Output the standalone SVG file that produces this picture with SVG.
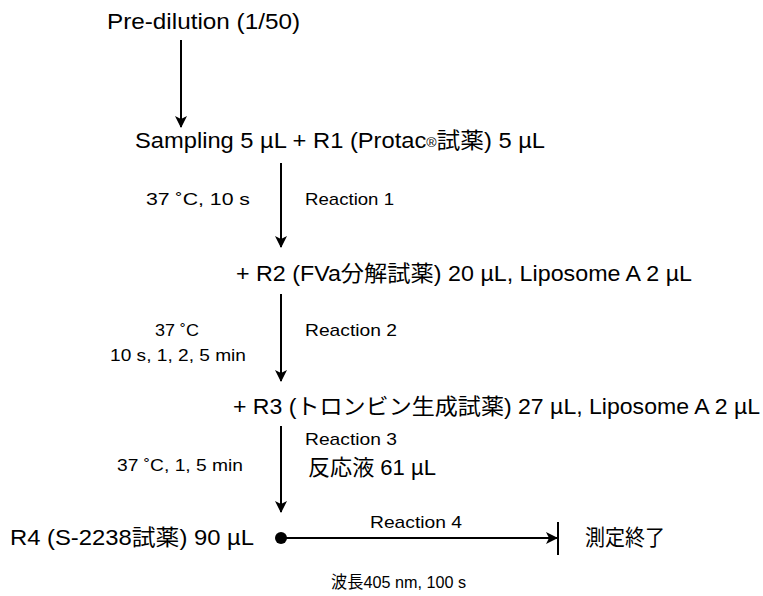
<svg xmlns="http://www.w3.org/2000/svg" width="763" height="596" viewBox="0 0 763 596">
<defs>
<style>
text{font-family:"Liberation Sans","Noto Sans CJK JP",sans-serif;fill:#000}
.m{font-size:22px}
.s{font-size:17px}
.ln{stroke:#000;stroke-width:2;fill:none}
</style>
<marker id="ah" viewBox="0 0 12 12" refX="11" refY="6" markerWidth="12" markerHeight="12" markerUnits="userSpaceOnUse" orient="auto">
<path d="M0,0 L12,6 L0,12 L3,6 Z" fill="#000"/>
</marker>
</defs>
<rect width="763" height="596" fill="#fff"/>
<g id="connectors">
<line class="ln" x1="181" y1="40" x2="181" y2="127" marker-end="url(#ah)"/>
<line class="ln" x1="281" y1="163" x2="281" y2="247" marker-end="url(#ah)"/>
<line class="ln" x1="281" y1="294" x2="281" y2="381" marker-end="url(#ah)"/>
<line class="ln" x1="281" y1="426" x2="281" y2="512" marker-end="url(#ah)"/>
<line class="ln" x1="281" y1="538" x2="557" y2="538" marker-end="url(#ah)"/>
<line class="ln" x1="558" y1="522" x2="558" y2="555"/>
<circle cx="281" cy="538" r="6" fill="#000"/>
</g>
<g id="n-predilution"><text class="m" x="107" y="29" textLength="193" lengthAdjust="spacingAndGlyphs">Pre-dilution (1/50)</text></g>
<g id="n-sampling"><text class="m" x="135" y="148" textLength="410" lengthAdjust="spacingAndGlyphs">Sampling 5 µL + R1 (Protac<tspan font-size="13" dy="-1">®</tspan><tspan dy="1">試薬) 5 µL</tspan></text></g>
<g id="n-r2"><text class="m" x="236" y="281" textLength="456" lengthAdjust="spacingAndGlyphs">+ R2 (FVa分解試薬) 20 µL, Liposome A 2 µL</text></g>
<g id="n-r3"><text class="m" x="233" y="414" textLength="527" lengthAdjust="spacingAndGlyphs">+ R3 (トロンビン生成試薬) 27 µL, Liposome A 2 µL</text></g>
<g id="n-r4"><text class="m" x="10" y="545" textLength="244" lengthAdjust="spacingAndGlyphs">R4 (S-2238試薬) 90 µL</text></g>
<g id="n-end"><text class="m" x="585" y="545" textLength="80" lengthAdjust="spacingAndGlyphs">測定終了</text></g>
<g id="labels">
<text class="s" x="146" y="205" textLength="104" lengthAdjust="spacingAndGlyphs">37 ˚C, 10 s</text>
<text class="s" x="305" y="205" textLength="89" lengthAdjust="spacingAndGlyphs">Reaction 1</text>
<text class="s" x="155" y="336" textLength="44" lengthAdjust="spacingAndGlyphs">37 ˚C</text>
<text class="s" x="110" y="361" textLength="136" lengthAdjust="spacingAndGlyphs">10 s, 1, 2, 5 min</text>
<text class="s" x="305" y="336" textLength="92" lengthAdjust="spacingAndGlyphs">Reaction 2</text>
<text class="s" x="305" y="445" textLength="92" lengthAdjust="spacingAndGlyphs">Reaction 3</text>
<text class="m" x="308" y="475" textLength="128" lengthAdjust="spacingAndGlyphs">反応液 61 µL</text>
<text class="s" x="117" y="471" textLength="126" lengthAdjust="spacingAndGlyphs">37 ˚C, 1, 5 min</text>
<text class="s" x="370" y="528" textLength="92" lengthAdjust="spacingAndGlyphs">Reaction 4</text>
<text class="s" x="331" y="588" textLength="135" lengthAdjust="spacingAndGlyphs">波長405 nm, 100 s</text>
</g>
</svg>
